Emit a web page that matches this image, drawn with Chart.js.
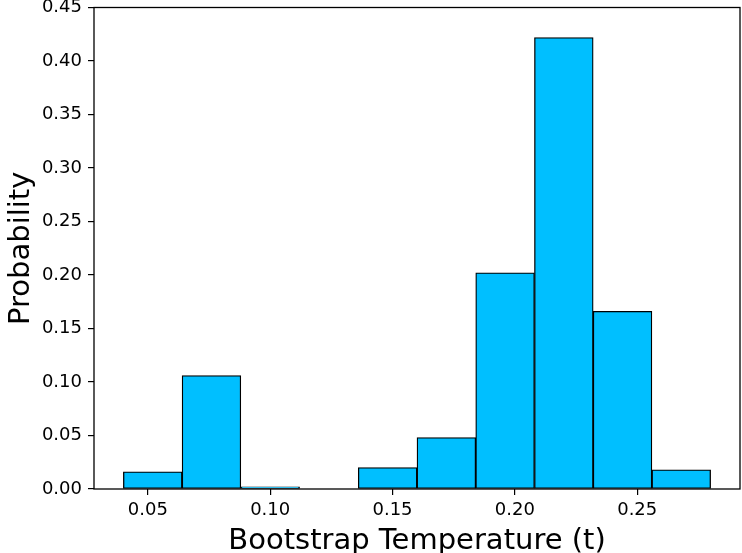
<!DOCTYPE html>
<html lang="en">
<head>
<meta charset="UTF-8">
<title>Bootstrap Temperature</title>
<script src="https://cdn.jsdelivr.net/npm/chart.js"></script>
<style>
  body { margin: 0; background: #fff; }
</style>
</head>
<body>
<canvas id="histChart" width="742" height="553"></canvas>
<script>
// histogram bins run 0.04 -> 0.28, width 0.024; values are bin centres
const binCenters = [0.052, 0.076, 0.100, 0.124, 0.148, 0.172, 0.196, 0.220, 0.244, 0.268];
const probabilities = [0.016, 0.106, 0.002, 0.0, 0.020, 0.048, 0.202, 0.422, 0.166, 0.018];
const xTicks = [0.05, 0.10, 0.15, 0.20, 0.25];
const yTicks = [0.00, 0.05, 0.10, 0.15, 0.20, 0.25, 0.30, 0.35, 0.40, 0.45];

const FONT = 'DejaVu Sans';

// draw the full box round the plot area like matplotlib spines
const framePlugin = {
  id: 'frame',
  afterDraw(chart) {
    const { ctx, chartArea: a } = chart;
    ctx.save();
    ctx.strokeStyle = '#000';
    ctx.lineWidth = 1.3;
    ctx.strokeRect(a.left, a.top, a.right - a.left, a.bottom - a.top);
    ctx.restore();
  }
};

const ctx = document.getElementById('histChart').getContext('2d');
new Chart(ctx, {
  type: 'bar',
  data: {
    datasets: [{
      data: binCenters.map((x, i) => ({ x: x, y: probabilities[i] })),
      backgroundColor: '#00bfff',
      borderColor: '#000',
      borderWidth: 1.3,
      borderSkipped: false,
      barPercentage: 1,
      categoryPercentage: 1
    }]
  },
  options: {
    responsive: false,
    animation: false,
    layout: { padding: { left: 0, right: 2, top: 7.5, bottom: 0 } },
    plugins: { legend: { display: false }, tooltip: { enabled: false } },
    scales: {
      x: {
        type: 'linear',
        offset: false,
        min: 0.028,
        max: 0.292,
        afterBuildTicks: axis => { axis.ticks = xTicks.map(v => ({ value: v })); },
        afterFit: s => { s.height = 64; s.paddingLeft = 0; s.paddingRight = 0; },
        grid: { offset: false, drawOnChartArea: false, drawTicks: true, tickLength: 6, color: '#000', lineWidth: 1.2 },
        border: { display: false },
        ticks: {
          padding: 5,
          color: '#000',
          font: { family: FONT, size: 18 },
          maxRotation: 0,
          callback: v => v.toFixed(2)
        },
        title: {
          display: true,
          text: 'Bootstrap Temperature (t)',
          color: '#000',
          font: { family: FONT, size: 29 },
          padding: { top: 0, bottom: -6 }
        }
      },
      y: {
        min: 0,
        max: 0.45,
        afterBuildTicks: axis => { axis.ticks = yTicks.map(v => ({ value: v })); },
        afterFit: s => { s.width = 94; s.paddingTop = 0; s.paddingBottom = 0; },
        grid: { drawOnChartArea: false, drawTicks: true, tickLength: 6, color: '#000', lineWidth: 1.2 },
        border: { display: false },
        ticks: {
          padding: 6,
          color: '#000',
          font: { family: FONT, size: 18 },
          callback: v => v.toFixed(2)
        },
        title: {
          display: true,
          text: 'Probability',
          color: '#000',
          font: { family: FONT, size: 29 },
          padding: { top: 4, bottom: 0 }
        }
      }
    }
  },
  plugins: [framePlugin]
});
</script>
</body>
</html>
